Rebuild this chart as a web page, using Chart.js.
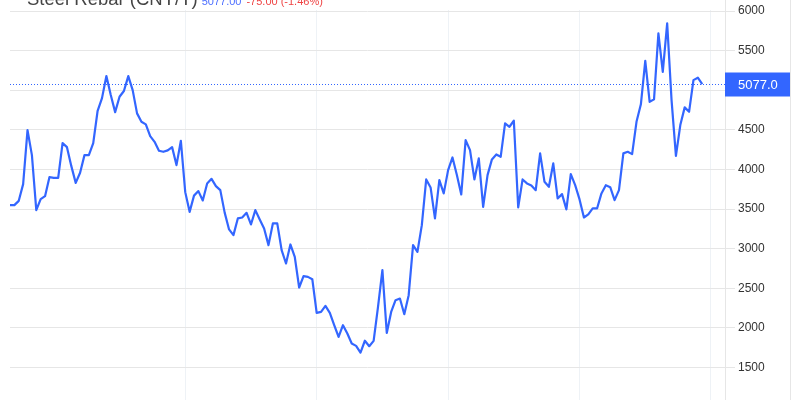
<!DOCTYPE html>
<html>
<head>
<meta charset="utf-8">
<script src="https://cdn.jsdelivr.net/npm/chart.js@4.4.1/dist/chart.umd.min.js"></script>
<style>
    html, body { margin: 0; padding: 0; background: #fff; overflow: hidden; }
    #wrap { position: relative; width: 800px; height: 400px; }
    #title {
        position: absolute; left: 27px; top: -11px; white-space: nowrap;
        font-family: "Liberation Sans", Arial, sans-serif; line-height: 20px; color: #444;
    }
    #title .name { font-size: 18.5px; }
    #title .last { font-size: 11px; color: #4d6fff; margin-left: 4px; }
    #title .chg { font-size: 11px; color: #ef4444; margin-left: 5px; }
</style>
</head>
<body>
<div id="wrap">
    <canvas id="chart" width="800" height="400"></canvas>
    <div id="title"><span class="name">Steel Rebar (CNY/T)</span><span class="last">5077.00</span><span class="chg">-75.00 (-1.46%)</span></div>
</div>
<script>
// rebar price, one value per period
var prices = [
    3550, 3550, 3604, 3815, 4497, 4181, 3487, 3626, 3663, 3903,
    3895, 3895, 4333, 4282, 4042, 3831, 3958, 4181, 4181, 4333,
    4741, 4901, 5179, 4939, 4724, 4918, 4990, 5179, 5002, 4708,
    4602, 4569, 4421, 4349, 4236, 4223, 4241, 4282, 4055, 4362,
    3714, 3465, 3670, 3727, 3609, 3824, 3882, 3790, 3739, 3455,
    3243, 3171, 3382, 3394, 3453, 3306, 3487, 3369, 3256, 3045,
    3319, 3319, 2981, 2813, 3053, 2897, 2510, 2653, 2644, 2615,
    2190, 2202, 2278, 2190, 2034, 1886, 2034, 1929, 1803, 1773,
    1689, 1838, 1769, 1836, 2265, 2729, 1937, 2202, 2350, 2371,
    2173, 2413, 3045, 2960, 3297, 3874, 3773, 3382, 3866, 3698,
    3992, 4152, 3929, 3685, 4371, 4244, 3874, 4140, 3528, 3929,
    4127, 4190, 4160, 4582, 4539, 4615, 3521, 3874, 3824, 3799,
    3739, 4203, 3844, 3781, 4076, 3634, 3689, 3496, 3941, 3802,
    3622, 3394, 3432, 3508, 3508, 3698, 3802, 3777, 3613, 3739,
    4203, 4223, 4194, 4602, 4822, 5372, 4854, 4885, 5718, 5233,
    5845, 4876, 4172, 4560, 4784, 4728, 5128, 5158, 5077
];
var yTicks = [1500, 2000, 2500, 3000, 3500, 4000, 4500, 5000, 5500, 6000];
var xGridAt = [40, 70, 100, 130, 160];
var lastPrice = 5077.0;

var lineColor = '#3366ff';

// last price line + label box on the right axis
var lastPricePlugin = {
    id: 'lastPrice',
    afterDatasetsDraw: function (chart) {
        var ctx = chart.ctx;
        var area = chart.chartArea;
        var y = Math.round(chart.scales.y.getPixelForValue(lastPrice)) + 0.5;
        ctx.save();
        ctx.strokeStyle = lineColor;
        ctx.lineWidth = 1;
        ctx.setLineDash([1, 2]);
        ctx.beginPath();
        ctx.moveTo(area.left, y);
        ctx.lineTo(area.right, y);
        ctx.stroke();
        ctx.setLineDash([]);
        ctx.fillStyle = lineColor;
        ctx.fillRect(area.right, y - 12, 65, 24);
        ctx.fillStyle = '#fff';
        ctx.font = '13px "Liberation Sans", Arial, sans-serif';
        ctx.textBaseline = 'middle';
        ctx.fillText(lastPrice.toFixed(1), area.right + 13, y + 1);
        // outer right border
        ctx.strokeStyle = '#e6e6e6';
        ctx.beginPath();
        ctx.moveTo(790.5, 0);
        ctx.lineTo(790.5, 400);
        ctx.moveTo(area.right + 0.5, 0);
        ctx.lineTo(area.right + 0.5, area.top);
        ctx.stroke();
        ctx.restore();
    }
};

var ctx = document.getElementById('chart');
var myChart = new Chart(ctx, {
    type: 'line',
    data: {
        datasets: [{
            label: 'Steel Rebar',
            data: prices.map(function (v, i) { return { x: i, y: v }; }),
            borderColor: lineColor,
            borderWidth: 2.2,
            borderJoinStyle: 'round',
            pointRadius: 0,
            tension: 0,
            fill: false
        }]
    },
    options: {
        responsive: false,
        animation: false,
        events: [],
        layout: { padding: { top: 10, right: 10, left: 10, bottom: 0 } },
        scales: {
            x: {
                type: 'linear',
                min: 0,
                max: 163.2,
                afterBuildTicks: function (scale) {
                    scale.ticks = xGridAt.map(function (v) { return { value: v }; });
                },
                afterFit: function (scale) {
                    scale.height = 0;
                    scale.paddingLeft = 0;
                    scale.paddingRight = 0;
                },
                ticks: { display: false },
                grid: { color: '#eef2f6', drawTicks: false },
                border: { display: false }
            },
            y: {
                position: 'right',
                min: 1090,
                max: 6013,
                afterBuildTicks: function (scale) {
                    scale.ticks = yTicks.map(function (v) { return { value: v }; });
                },
                afterFit: function (scale) {
                    scale.width = 65;
                    scale.paddingTop = 0;
                    scale.paddingBottom = 0;
                },
                ticks: {
                    color: '#333',
                    padding: 3,
                    font: { family: '"Liberation Sans", Arial, sans-serif', size: 12 },
                    callback: function (v) { return String(v); }
                },
                grid: { color: '#e6e6e6', tickLength: 10 },
                border: { display: true, color: '#e6e6e6' }
            }
        },
        plugins: {
            legend: { display: false },
            tooltip: { enabled: false },
            title: { display: false }
        }
    },
    plugins: [lastPricePlugin]
});
</script>
</body>
</html>
